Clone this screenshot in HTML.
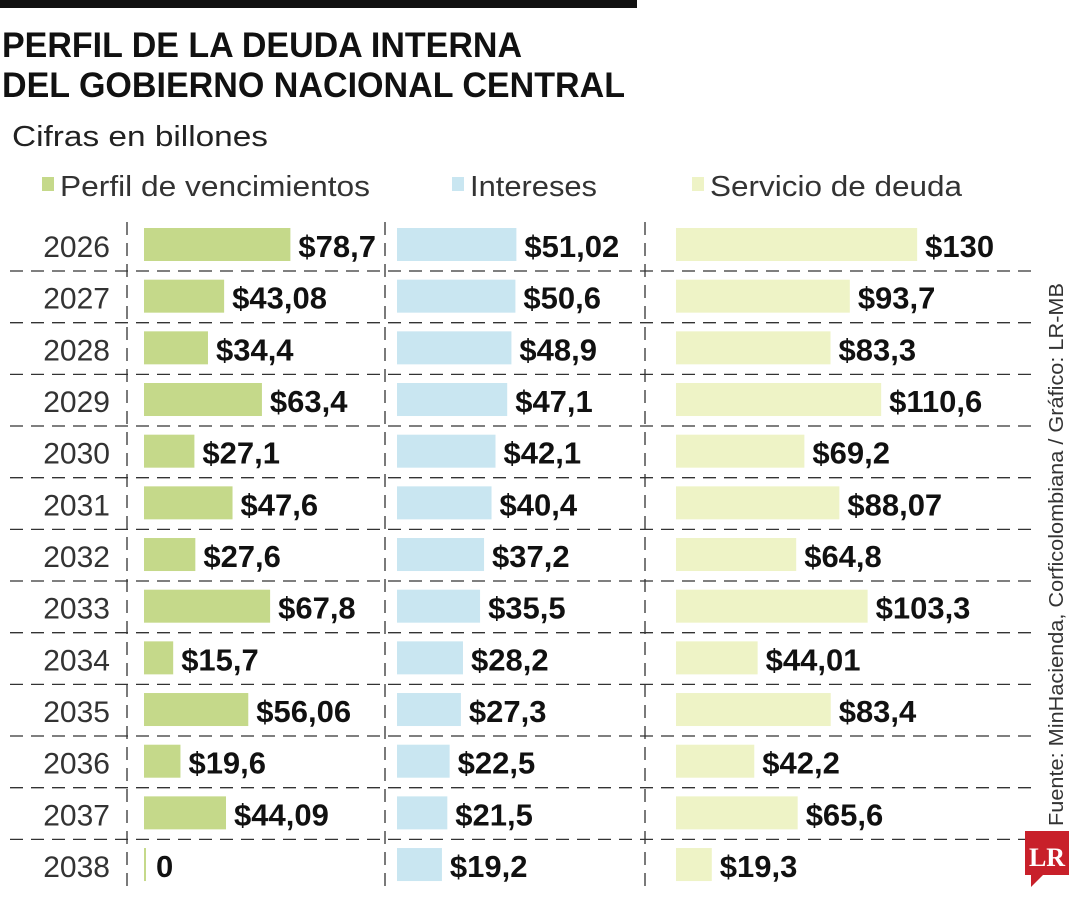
<!DOCTYPE html>
<html><head><meta charset="utf-8"><style>
body{margin:0;background:#fff;width:1080px;height:900px;overflow:hidden;font-family:"Liberation Sans",sans-serif}
</style></head><body>
<svg id="chart" width="1080" height="900" xmlns="http://www.w3.org/2000/svg">
<rect x="0" y="0" width="637" height="8" fill="#111"/>
<text x="2" y="57" font-size="35" font-weight="bold" fill="#111" textLength="520" lengthAdjust="spacingAndGlyphs">PERFIL DE LA DEUDA INTERNA</text>
<text x="2" y="97" font-size="35" font-weight="bold" fill="#111" textLength="623" lengthAdjust="spacingAndGlyphs">DEL GOBIERNO NACIONAL CENTRAL</text>
<text x="12" y="146" font-size="29" fill="#222" textLength="256" lengthAdjust="spacingAndGlyphs">Cifras en billones</text>
<g>
<rect x="42" y="177" width="12" height="14" fill="#c5d98a"/>
<text x="60" y="196" font-size="29" fill="#333" textLength="310" lengthAdjust="spacingAndGlyphs">Perfil de vencimientos</text>
<rect x="452" y="177" width="12" height="14" fill="#c9e6f1"/>
<text x="470" y="196" font-size="29" fill="#333" textLength="127" lengthAdjust="spacingAndGlyphs">Intereses</text>
<rect x="692" y="177" width="12" height="14" fill="#eef3c6"/>
<text x="710" y="196" font-size="29" fill="#333" textLength="252" lengthAdjust="spacingAndGlyphs">Servicio de deuda</text>
</g>
<g id="grid"></g>
<g id="bars"></g>
<text transform="translate(1063,826) rotate(-90)" font-size="20" fill="#333" textLength="543" lengthAdjust="spacingAndGlyphs">Fuente: MinHacienda, Corficolombiana / Gráfico: LR-MB</text>
<g>
<path d="M1025 831 h44 v44 h-26 l-12 12 v-12 h-6 z" fill="#c8202a"/>
<text x="1047" y="866" font-size="26" font-weight="bold" fill="#fff" text-anchor="middle" font-family="Liberation Serif,serif">LR</text>
</g>
</svg>
<script>
const years=["2026","2027","2028","2029","2030","2031","2032","2033","2034","2035","2036","2037","2038"];
const perfil=[78.7,43.08,34.4,63.4,27.1,47.6,27.6,67.8,15.7,56.06,19.6,44.09,0];
const intereses=[51.02,50.6,48.9,47.1,42.1,40.4,37.2,35.5,28.2,27.3,22.5,21.5,19.2];
const servicio=[130,93.7,83.3,110.6,69.2,88.07,64.8,103.3,44.01,83.4,42.2,65.6,19.3];
const perfilLabels=["$78,7","$43,08","$34,4","$63,4","$27,1","$47,6","$27,6","$67,8","$15,7","$56,06","$19,6","$44,09","0"];
const interesesLabels=["$51,02","$50,6","$48,9","$47,1","$42,1","$40,4","$37,2","$35,5","$28,2","$27,3","$22,5","$21,5","$19,2"];
const servicioLabels=["$130","$93,7","$83,3","$110,6","$69,2","$88,07","$64,8","$103,3","$44,01","$83,4","$42,2","$65,6","$19,3"];
const NS="http://www.w3.org/2000/svg";
const rowY=i=>245+i*51.67;
const cols=[
 {vals:perfil,labels:perfilLabels,x0:144,k:1.86,color:"#c5d98a",name:"perfil"},
 {vals:intereses,labels:interesesLabels,x0:397,k:2.34,color:"#c9e6f1",name:"intereses"},
 {vals:servicio,labels:servicioLabels,x0:676,k:1.855,color:"#eef3c6",name:"servicio"}];
const grid=document.getElementById('grid'),bars=document.getElementById('bars');
function mk(tag,attrs,parent){const e=document.createElementNS(NS,tag);for(const a in attrs)e.setAttribute(a,attrs[a]);parent.appendChild(e);return e;}
for(let i=0;i<years.length;i++){
 if(i<years.length-1){const l=mk('line',{x1:10,x2:1033,y1:rowY(i)+26,y2:rowY(i)+26,stroke:'#333','stroke-width':1.3,'stroke-dasharray':'13,8'},grid);
 
 }
}
[127,385,645].forEach(x=>{const l=mk('line',{x1:x,x2:x,y1:222,y2:890,stroke:'#333','stroke-width':1.3,'stroke-dasharray':'13,8'},grid);
 
 });
years.forEach((y,i)=>{const t=mk('text',{x:110,y:rowY(i)+12,'font-size':30,fill:'#333','text-anchor':'end'},bars);t.textContent=y;
 
 });
cols.forEach(c=>{c.vals.forEach((v,i)=>{const w=Math.max(v*c.k,v===0?2:0);
 const r=mk('rect',{x:c.x0,y:rowY(i)-17,width:w,height:33,fill:c.color},bars);
 
 
 const t=mk('text',{x:c.x0+w+(v===0?10:8),y:rowY(i)+12,'font-size':31,'font-weight':'bold',fill:'#111'},bars);t.textContent=c.labels[i];
 
 });});
</script>
</body></html>
